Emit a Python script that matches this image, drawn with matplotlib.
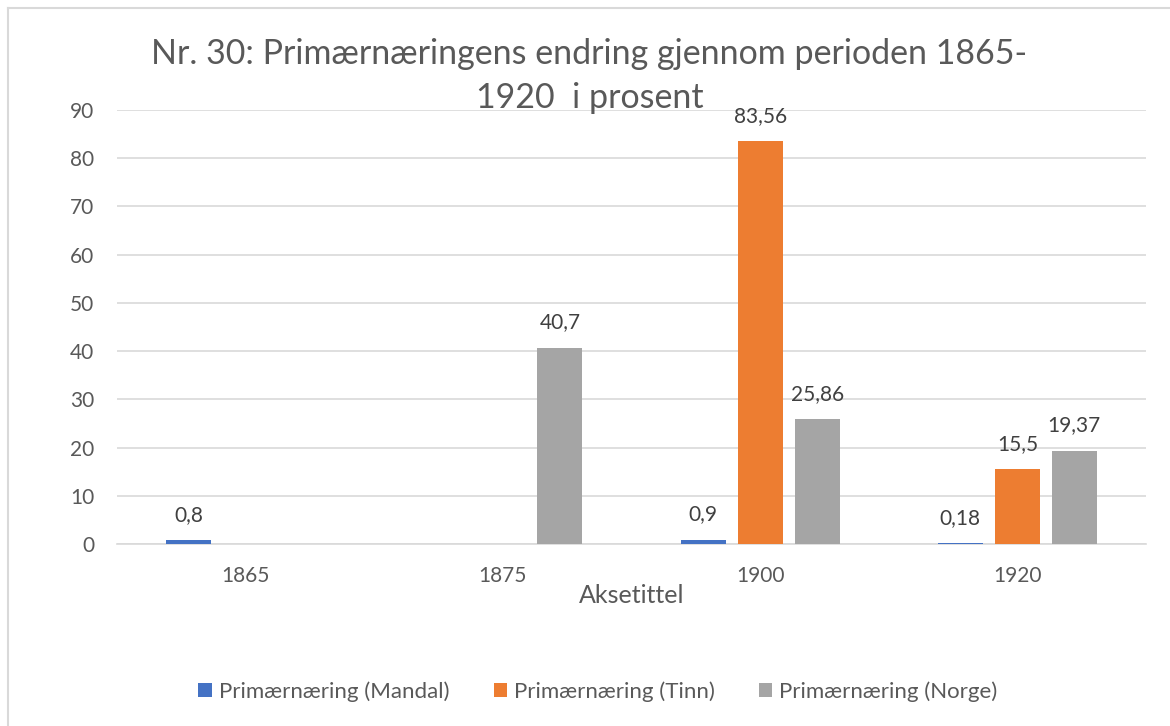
import numpy as np
import matplotlib
matplotlib.use("Agg")
import matplotlib.pyplot as plt
from matplotlib.lines import Line2D

# data
years = ["1865", "1875", "1900", "1920"]
mandal = [0.8, np.nan, 0.9, 0.18]
tinn = [np.nan, np.nan, 83.56, 15.5]
norge = [np.nan, 40.7, 25.86, 19.37]
series_names = ["Primærnæring (Mandal)", "Primærnæring (Tinn)", "Primærnæring (Norge)"]
colors = ["#4472C4", "#ED7D31", "#A5A5A5"]
yticks = [0, 10, 20, 30, 40, 50, 60, 70, 80, 90]

plt.rcParams['font.family'] = ['Lato', 'DejaVu Sans']
text_col = "#595959"

W, H = 1170, 726
fig = plt.figure(figsize=(W / 100, H / 100), dpi=100)
ax = fig.add_axes([117 / W, 1 - 544 / H, (1146 - 117) / W, (544 - 110) / H])

x = np.arange(len(years))
offsets = [-0.2216, 0.0, 0.2216]
width = 0.175

for vals, name, col, off in zip([mandal, tinn, norge], series_names, colors, offsets):
    bars = ax.bar(x + off, vals, width, color=col, label=name, zorder=3)
    labels = ["" if np.isnan(v) else f"{v:g}".replace(".", ",") for v in vals]
    ax.bar_label(bars, labels=labels, padding=11, fontsize=15, color="#404040")

ax.set_xlim(-0.5, 3.5)
ax.set_ylim(0, 90)
ax.set_yticks(yticks)
ax.set_xticks(x)
ax.set_xticklabels(years)
ax.grid(axis="y", color="#D9D9D9", linewidth=1.2, zorder=0)
for s in ["top", "right", "left"]:
    ax.spines[s].set_visible(False)
ax.spines["bottom"].set_color("#D9D9D9")
ax.spines["bottom"].set_linewidth(1.2)
ax.tick_params(axis="both", length=0, labelsize=15, colors=text_col)
ax.tick_params(axis="x", pad=16)
ax.tick_params(axis="y", pad=16.5)

# axis title
fig.text(0.5 * (117 + 1146) / W, 1 - 603 / H, "Aksetittel", ha="center", va="baseline",
         fontsize=18, color=text_col)

# chart title, two lines as in the original
fig.text(589.5 / W, 1 - 64 / H, "Nr. 30: Primærnæringens endring gjennom perioden 1865-",
         ha="center", va="baseline", fontsize=24.5, color=text_col)
fig.text(589.5 / W, 1 - 108 / H, "1920  i prosent",
         ha="center", va="baseline", fontsize=24.5, color=text_col)

ax.legend(loc="center", bbox_to_anchor=(598 / W, 1 - 692 / H), bbox_transform=fig.transFigure,
          ncol=3, frameon=False, fontsize=16, labelcolor=text_col,
          handlelength=0.59, handleheight=0.59, handletextpad=0.32, columnspacing=2.0)

# outer chart border (only left and top edges are inside the picture)
fig.add_artist(Line2D([8 / W, 8 / W], [0, 1 - 8 / H], transform=fig.transFigure,
                      color="#D9D9D9", linewidth=1.5))
fig.add_artist(Line2D([8 / W, 1], [1 - 8 / H, 1 - 8 / H], transform=fig.transFigure,
                      color="#D9D9D9", linewidth=1.5))

fig.savefig("out.png", dpi=100, facecolor="white")
